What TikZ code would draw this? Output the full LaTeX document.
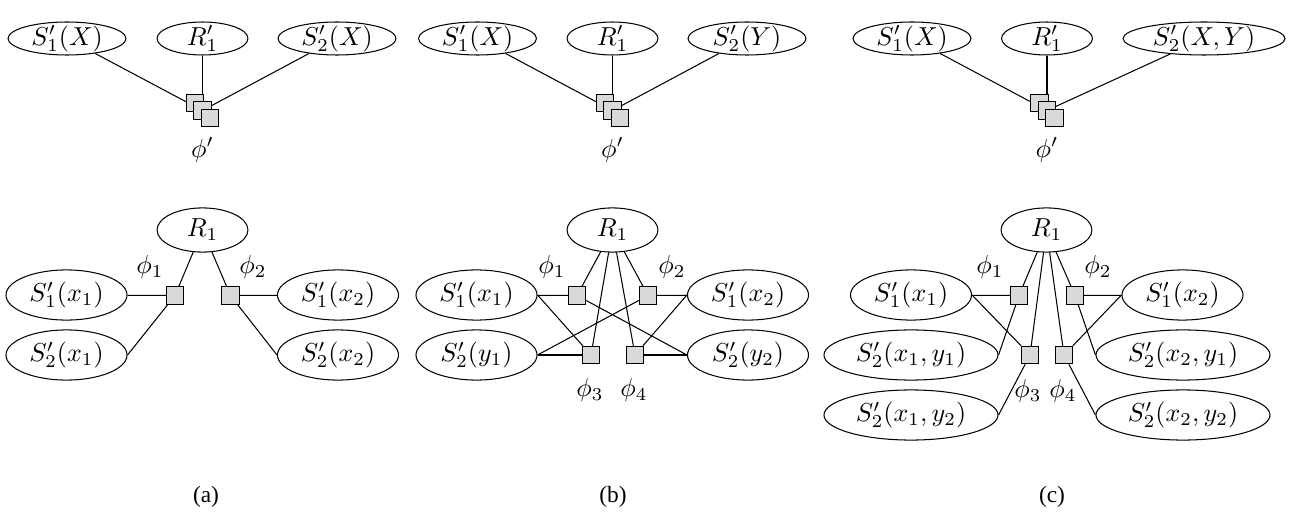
\documentclass[tikz,border=0pt]{standalone}
\usepackage[no-math]{fontspec}
\setmainfont{Liberation Serif}
\usetikzlibrary{shapes.geometric,backgrounds}

\begin{document}
\begin{tikzpicture}[x=0.385pt, y=-0.385pt,
        var/.style={draw, ellipse, inner sep=-3pt, minimum width=46.6pt, minimum height=19.3pt},
        topvar/.style={var, minimum width=45.4pt, minimum height=12.7pt},
        wide/.style={minimum width=67pt},
        rel/.style={minimum width=35pt},
        fac/.style={draw, fill=black!15, inner sep=0pt, minimum size=6.7pt}]
        \useasboundingbox (0, 0) rectangle (1299, 515);

        % (a) lifted model
        \node[topvar] (as1) at (67, 38.5) {$S'_1(X)$};
        \node[topvar, rel] (ar) at (202.5, 38.5) {$R'_1$};
        \node[topvar] (as2) at (337, 38.5) {$S'_2(X)$};
        \node[fac] (afa) at (195, 103) {};
        \node[fac] (afb) at (202.5, 110.5) {};
        \node[fac] (afc) at (210, 118) {};
        \node (aphi) at (202.5, 150) {$\phi'$};
        \begin{scope}[on background layer]
            \draw (as1) -- (afb.center);
            \draw (ar) -- (afb.center);
            \draw (as2) -- (afb.center);
        \end{scope}

        % (a) ground model
        \node[var, rel, minimum height=17pt] (aR) at (202.5, 230) {$R_1$};
        \node[fac] (af1) at (175, 295.5) {};
        \node[fac] (af2) at (230.5, 295.5) {};
        \node (aphi1) at (150, 267) {$\phi_1$};
        \node (aphi2) at (253, 267) {$\phi_2$};
        \node[var] (ax1) at (66.5, 295) {$S'_1(x_1)$};
        \node[var] (ay1) at (66.5, 355) {$S'_2(x_1)$};
        \node[var] (ax2) at (338, 295) {$S'_1(x_2)$};
        \node[var] (ay2) at (338, 355) {$S'_2(x_2)$};

        \draw (aR) -- (af1);
        \draw (aR) -- (af2);
        \draw (ax1) -- (af1);
        \draw (ay1.east) -- (af1);
        \draw (af2) -- (ax2);
        \draw (af2) -- (ay2.west);

        % (b) lifted model
        \node[topvar] (bs1) at (477.5, 38.5) {$S'_1(X)$};
        \node[topvar, rel] (br) at (612.5, 38.5) {$R'_1$};
        \node[topvar] (bs2) at (747, 38.5) {$S'_2(Y)$};
        \node[fac] (bfa) at (605, 103) {};
        \node[fac] (bfb) at (612.5, 110.5) {};
        \node[fac] (bfc) at (620, 118) {};
        \node (bphi) at (612.5, 150) {$\phi'$};
        \begin{scope}[on background layer]
            \draw (bs1) -- (bfb.center);
            \draw (br) -- (bfb.center);
            \draw (bs2) -- (bfb.center);
        \end{scope}

        % (b) ground model
        \node[var, rel, minimum height=17pt] (bR) at (612.5, 230) {$R_1$};
        \node[fac] (bf1) at (577, 295.5) {};
        \node[fac] (bf2) at (648, 295.5) {};
        \node[fac] (bf3) at (591, 355) {};
        \node[fac] (bf4) at (635, 355) {};
        \node (bphi1) at (552, 267) {$\phi_1$};
        \node (bphi2) at (672, 267) {$\phi_2$};
        \node (bphi3) at (590, 390) {$\phi_3$};
        \node (bphi4) at (634, 390) {$\phi_4$};
        \node[var] (bx1) at (476.5, 295) {$S'_1(x_1)$};
        \node[var] (by1) at (476.5, 355) {$S'_2(y_1)$};
        \node[var] (bx2) at (748, 295) {$S'_1(x_2)$};
        \node[var] (by2) at (748, 355) {$S'_2(y_2)$};

        \draw (bR) -- (bf1);
        \draw (bR) -- (bf2);
        \draw (bR) -- (bf3);
        \draw (bR) -- (bf4);
        \draw (bx1) -- (bf1);
        \draw (bx1.east) -- (bf3);
        \draw (by1) -- (bf3);
        \draw (by1.east) -- (bf2);
        \draw (bf2) -- (bx2);
        \draw (bf4) -- (bx2.west);
        \draw (bf4) -- (by2);
        \draw (bf1) -- (by2.west);

        % (c) lifted model
        \node[topvar] (cs1) at (912, 38.5) {$S'_1(X)$};
        \node[topvar, rel] (cr) at (1047, 38.5) {$R'_1$};
        \node[topvar, minimum width=62.4pt] (cs2) at (1204, 38.5) {$S'_2(X,Y)$};
        \node[fac] (cfa) at (1039.5, 103) {};
        \node[fac] (cfb) at (1047, 110.5) {};
        \node[fac] (cfc) at (1054.5, 118) {};
        \node (cphi) at (1047, 150) {$\phi'$};
        \begin{scope}[on background layer]
            \draw (cs1) -- (cfb.center);
            \draw (cr) -- (cfb.center);
            \draw (cs2) -- (cfb.center);
        \end{scope}

        % (c) ground model
        \node[var, rel, minimum height=17pt] (cR) at (1046.5, 230) {$R_1$};
        \node[fac] (cf1) at (1019, 295.5) {};
        \node[fac] (cf2) at (1075, 295.5) {};
        \node[fac] (cf3) at (1030, 355) {};
        \node[fac] (cf4) at (1064, 355) {};
        \node (cphi1) at (990, 267) {$\phi_1$};
        \node (cphi2) at (1098, 267) {$\phi_2$};
        \node (cphi3) at (1028, 391) {$\phi_3$};
        \node (cphi4) at (1063, 391) {$\phi_4$};
        \node[var] (cx1) at (911, 295) {$S'_1(x_1)$};
        \node[var, wide] (cy11) at (911, 355) {$S'_2(x_1,y_1)$};
        \node[var, wide] (cy12) at (911, 415) {$S'_2(x_1,y_2)$};
        \node[var] (cx2) at (1182.5, 295) {$S'_1(x_2)$};
        \node[var, wide] (cy21) at (1183, 355) {$S'_2(x_2,y_1)$};
        \node[var, wide] (cy22) at (1183, 415) {$S'_2(x_2,y_2)$};

        \draw (cR) -- (cf1);
        \draw (cR) -- (cf2);
        \draw (cR) -- (cf3);
        \draw (cR) -- (cf4);
        \draw (cx1) -- (cf1);
        \draw (cx1.east) -- (cf3);
        \draw (cf1) -- (cy11.east);
        \draw (cf3) -- (cy12.east);
        \draw (cf2) -- (cx2);
        \draw (cf4) -- (cx2.west);
        \draw (cf2) -- (cy21.west);
        \draw (cf4) -- (cy22.west);

        % captions
        \node (capa) at (206, 497) {\small (a)};
        \node (capb) at (613, 497) {\small (b)};
        \node (capc) at (1052, 497) {\small (c)};
    \end{tikzpicture}
\end{document}
